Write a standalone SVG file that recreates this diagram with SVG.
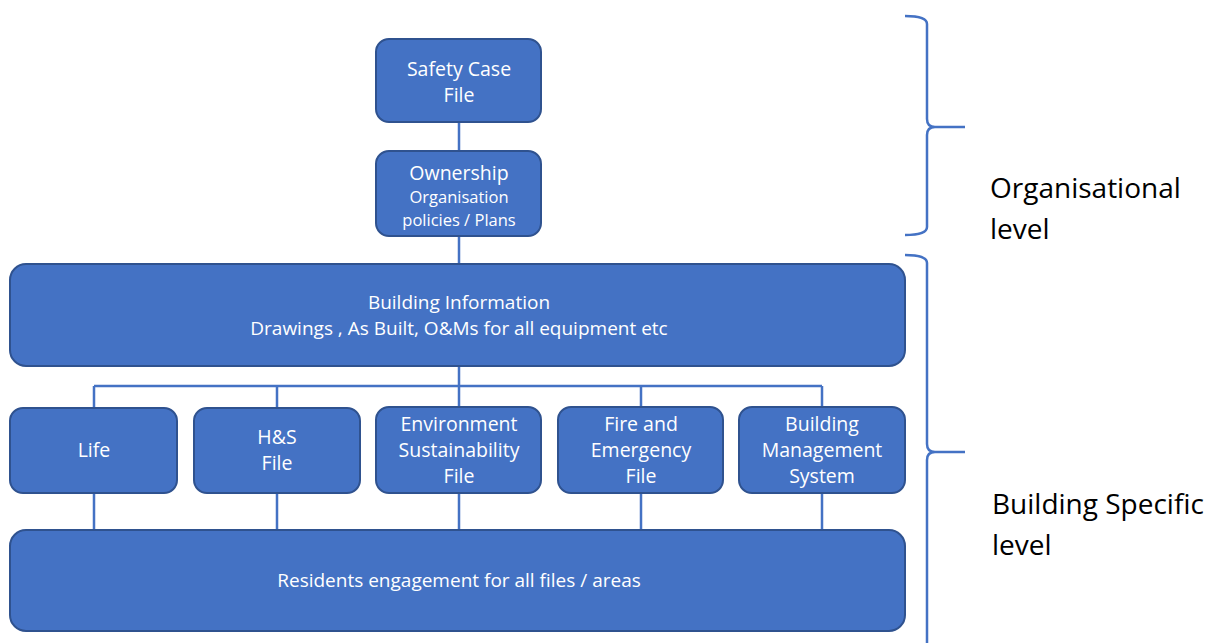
<svg xmlns="http://www.w3.org/2000/svg" width="1210" height="643" viewBox="0 0 1210 643">
<style>
.box{fill:#4472C4;stroke:#2F528F;stroke-width:2}
.t{fill:#fff;font-family:"Open Sans","Liberation Sans",sans-serif;font-size:19.5px;text-anchor:middle}
.s{font-size:16.5px}
.m{font-size:19px}
.c{stroke:#4472C4;stroke-width:2.5;fill:none}
.lbl{fill:#000;font-family:"Open Sans","Liberation Sans",sans-serif;font-size:28px}
</style>
<rect width="1210" height="643" fill="#fff"/>
<g id="connectors">
<path class="c" d="M459 122V151M459 236V264M459 366V386M94 386H822M94 386V408M277 386V408M459 386V408M641 386V408M822 386V408M94 493V530M277 493V530M459 493V530M641 493V530M822 493V530"/>
</g>
<g id="safety-case"><rect class="box" x="376" y="39" width="165" height="83" rx="13"/><text class="t" x="459" y="76">Safety Case</text><text class="t" x="459" y="102">File</text></g>
<g id="ownership"><rect class="box" x="376" y="151" width="165" height="85" rx="13"/><text class="t" x="459" y="180">Ownership</text><text class="t s" x="459" y="203">Organisation</text><text class="t s" x="459" y="226">policies / Plans</text></g>
<g id="building-info"><rect class="box" x="10" y="264" width="895" height="102" rx="16"/><text class="t m" x="459" y="309">Building Information</text><text class="t m" x="459" y="335">Drawings , As Built, O&amp;Ms for all equipment etc</text></g>
<g id="life"><rect class="box" x="10" y="408" width="167" height="85" rx="13"/><text class="t" x="94" y="457">Life</text></g>
<g id="hs"><rect class="box" x="194" y="408" width="166" height="85" rx="13"/><text class="t" x="277" y="444">H&amp;S</text><text class="t" x="277" y="470">File</text></g>
<g id="environment"><rect class="box" x="376" y="407" width="165" height="86" rx="13"/><text class="t" x="459" y="431">Environment</text><text class="t" x="459" y="457">Sustainability</text><text class="t" x="459" y="483">File</text></g>
<g id="fire"><rect class="box" x="558" y="407" width="165" height="86" rx="13"/><text class="t" x="641" y="431">Fire and</text><text class="t" x="641" y="457">Emergency</text><text class="t" x="641" y="483">File</text></g>
<g id="bms"><rect class="box" x="739" y="407" width="166" height="86" rx="13"/><text class="t" x="822" y="431">Building</text><text class="t" x="822" y="457">Management</text><text class="t" x="822" y="483">System</text></g>
<g id="residents"><rect class="box" x="10" y="530" width="895" height="101" rx="16"/><text class="t m" x="459" y="587">Residents engagement for all files / areas</text></g>
<g id="brace-org"><path class="c" d="M905 16Q927 16 927 24V119Q927 127 935 127H965M935 127Q927 127 927 135V227Q927 235 905 235"/></g>
<g id="brace-bld"><path class="c" d="M905 255Q927 255 927 263V444Q927 452 935 452H965M935 452Q927 452 927 460V643"/></g>
<g id="labels"><text class="lbl" x="990" y="198">Organisational</text><text class="lbl" x="990" y="239">level</text><text class="lbl" x="992" y="514">Building Specific</text><text class="lbl" x="992" y="555">level</text></g>
</svg>
